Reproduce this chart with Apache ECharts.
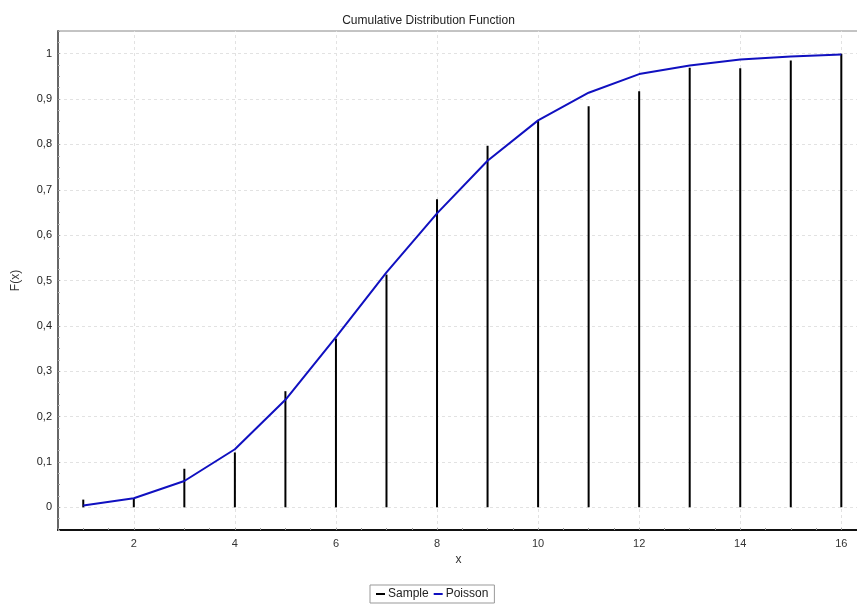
<!DOCTYPE html>
<html lang="en">
<head>
	<meta charset="utf-8">
	<title>Cumulative Distribution Function</title>
	<script src="https://cdn.jsdelivr.net/npm/echarts@6/dist/echarts.min.js"></script>
</head>
<style>
	html,body{width: 100%; height: 100%; padding: 0; margin: 0; overflow: hidden; background: #fff;}
	#main{width: 857px; height: 604px;}
</style>
<body>
	<div id="main"></div>
</body>
<script type="text/javascript">
	// data
	var xs = [1, 2, 3, 4, 5, 6, 7, 8, 9, 10, 11, 12, 13, 14, 15, 16];
	var sample = [0.017, 0.019, 0.085, 0.121, 0.256, 0.372, 0.513, 0.679, 0.797, 0.853, 0.884, 0.917, 0.969, 0.968, 0.985, 1.0];
	var poisson = [0.004, 0.020, 0.058, 0.128, 0.237, 0.375, 0.518, 0.648, 0.764, 0.853, 0.914, 0.955, 0.974, 0.987, 0.994, 0.998];
	var xGridTicks = [2, 4, 6, 8, 10, 12, 14, 16];
	var yGridTicks = [0, 0.1, 0.2, 0.3, 0.4, 0.5, 0.6, 0.7, 0.8, 0.9, 1];

	function pairs(a, b) {
		var out = [];
		for (var i = 0; i < a.length; i++) out.push([a[i], b[i]]);
		return out;
	}
	function near(v, list) {
		for (var i = 0; i < list.length; i++) {
			if (Math.abs(v - list[i]) < 1e-6) return true;
		}
		return false;
	}

	var gridStyle = {color: '#e2e2e2', type: [3, 3], width: 1};
	var gridLines = [];
	xGridTicks.forEach(function (v) { gridLines.push({xAxis: v, lineStyle: gridStyle}); });
	yGridTicks.forEach(function (v) { gridLines.push({yAxis: v, lineStyle: gridStyle}); });

	var font = 'Liberation Sans, Arial, sans-serif';
	var myChart = echarts.init(document.getElementById('main'));
	var option = {
		backgroundColor: '#fff',
		animation: false,
		title: {
			text: 'Cumulative Distribution Function',
			left: 'center',
			top: 10,
			textStyle: {fontSize: 12, fontWeight: 'normal', color: '#222', fontFamily: font}
		},
		legend: {
			bottom: 1,
			left: 370,
			data: ['Sample', 'Poisson'],
			icon: 'rect',
			itemWidth: 9,
			itemHeight: 2,
			itemGap: 5,
			padding: [3, 6],
			borderColor: '#999',
			borderWidth: 1,
			borderRadius: 0,
			textStyle: {fontSize: 12, color: '#222', fontFamily: font, padding: [0, 0, 0, -2]}
		},
		grid: {
			left: 58, right: -2, top: 31, bottom: 74,
			outerBoundsMode: 'none',
			show: true, borderColor: '#888', borderWidth: 1
		},
		xAxis: {
			type: 'value',
			min: 0.5,
			max: 16.35,
			interval: 0.5,
			name: 'x',
			nameLocation: 'middle',
			nameGap: 23,
			nameTextStyle: {fontSize: 12, color: '#333', fontFamily: font},
			axisLine: {onZero: false, lineStyle: {color: '#111', width: 2}},
			axisTick: {inside: true, length: 2, lineStyle: {color: '#999'}},
			splitLine: {show: false},
			axisLabel: {
				fontSize: 11, color: '#333', fontFamily: font, margin: 8,
				formatter: function (v) { return near(v, xGridTicks) ? String(Math.round(v)) : ''; }
			}
		},
		yAxis: {
			type: 'value',
			min: -0.05,
			max: 1.05,
			interval: 0.05,
			name: 'F(x)',
			nameLocation: 'middle',
			nameGap: 36,
			nameTextStyle: {fontSize: 12, color: '#333', fontFamily: font},
			axisLine: {show: true, onZero: false, lineStyle: {color: '#666', width: 2}},
			axisTick: {inside: true, length: 2, lineStyle: {color: '#999'}},
			minorTick: {show: true, splitNumber: 2, length: 2, lineStyle: {color: '#bbb'}},
			splitLine: {show: false},
			axisLabel: {
				fontSize: 11, color: '#222', fontFamily: font, margin: 6,
				formatter: function (v) {
					return near(v, yGridTicks) ? String(Math.round(v * 10) / 10).replace('.', ',') : '';
				}
			}
		},
		series: [{
			name: 'Sample',
			type: 'bar',
			barWidth: 2,
			itemStyle: {color: '#000'},
			data: pairs(xs, sample),
			markLine: {
				silent: true,
				symbol: 'none',
				label: {show: false},
				z: 0,
				data: gridLines
			},
			z: 2
		}, {
			name: 'Poisson',
			type: 'line',
			symbol: 'none',
			lineStyle: {color: '#1010c0', width: 2},
			itemStyle: {color: '#1010c0'},
			data: pairs(xs, poisson),
			z: 3
		}]
	};
	myChart.setOption(option);
</script>
</html>
